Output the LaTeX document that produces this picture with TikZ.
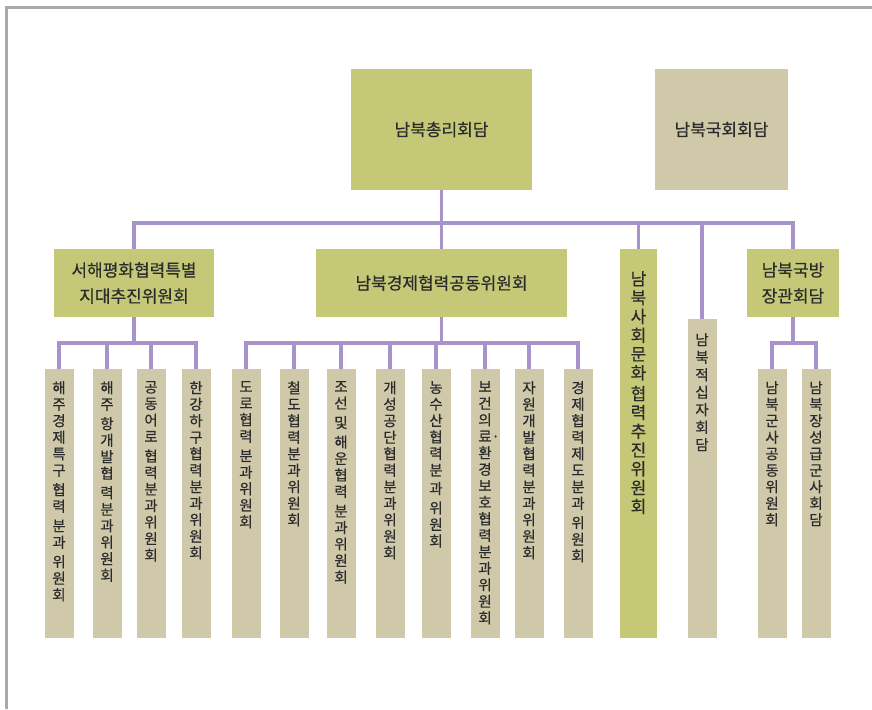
\documentclass[tikz,border=0pt]{standalone}
\usepackage{fontspec}
\setmainfont{Noto Sans CJK KR}[FakeBold=0.5]
\definecolor{olivec}{HTML}{C5C977}
\definecolor{beigec}{HTML}{CFC9AA}
\definecolor{linkc}{HTML}{A793C9}
\definecolor{framec}{HTML}{A8A9AB}
\definecolor{txtc}{HTML}{2B2B2B}
\newcommand{\vtxt}[2]{\parbox[t][#1][t]{2em}{\centering #2}}
\begin{document}
\begin{tikzpicture}[x=1pt,y=-1pt,
	link/.style={draw=linkc,line width=3.5pt},
	head/.style={fill=olivec,text=txtc,inner sep=0pt,align=center,font=\fontsize{17}{26}\selectfont},
	side/.style={head,fill=beigec},
	sub/.style={fill=beigec,text=txtc,anchor=north,minimum width=28pt,inner xsep=0pt,inner ysep=12pt,font=\fontsize{14.5}{16.5}\selectfont}]
	\useasboundingbox (0,0) rectangle (872,709);
	\draw[framec,line width=3pt] (6.5,709) -- (6.5,7.5) -- (872,7.5);
	% top
	\node[head,minimum width=181pt,minimum height=121pt] (chongri) at (441.5,129.5) {남북총리회담};
	\node[side,minimum width=133pt,minimum height=121pt] (gukhoe) at (721.5,129.5) {남북국회회담};
	% second row
	\node[head,minimum width=160pt,minimum height=68pt] (seohae) at (134,283) {서해평화협력특별\\지대추진위원회};
	\node[head,minimum width=251pt,minimum height=68pt] (gyeongje) at (441.5,283) {남북경제협력공동위원회};
	\node[sub,fill=olivec,minimum width=37pt,inner ysep=22pt,font=\fontsize{17}{18.8}\selectfont] (sahoe) at (638.5,249)
		{\vtxt{345pt}{남\\북\\사\\회\\문\\화\\[2pt]협\\력\\추\\진\\위\\원\\회}};
	\node[sub,inner ysep=14pt] (jeoksip) at (702,319) {\vtxt{291pt}{남\\[1pt]북\\[1pt]적\\[1pt]십\\[1pt]자\\[1pt]회\\[1pt]담}};
	\node[head,minimum width=92pt,minimum height=68pt] (gukbang) at (793,283) {남북국방\\장관회담};
	% subcommittees
	\node[sub] (s1) at (59,369) {\vtxt{245pt}{해\\주\\경\\제\\특\\구\\[3pt]협\\력\\[3pt]분\\과\\[3pt]위\\원\\회}};
	\node[sub] (s2) at (107,369) {\vtxt{245pt}{해\\주\\[3pt]항\\개\\발\\협\\[3pt]력\\분\\과\\위\\원\\회}};
	\node[sub] (s3) at (151,369) {\vtxt{245pt}{공\\동\\어\\로\\[3pt]협\\력\\분\\과\\위\\원\\회}};
	\node[sub] (s4) at (196,369) {\vtxt{245pt}{한\\강\\하\\구\\협\\력\\분\\과\\위\\원\\회}};
	\node[sub] (e1) at (246,369) {\vtxt{245pt}{도\\로\\협\\력\\[3pt]분\\과\\위\\원\\회}};
	\node[sub] (e2) at (294,369) {\vtxt{245pt}{철\\도\\협\\력\\분\\과\\위\\원\\회}};
	\node[sub] (e3) at (341,369) {\vtxt{245pt}{조\\선\\[3pt]및\\[3pt]해\\운\\협\\력\\[3pt]분\\과\\위\\원\\회}};
	\node[sub] (e4) at (390,369) {\vtxt{245pt}{개\\성\\공\\단\\협\\력\\분\\과\\위\\원\\회}};
	\node[sub] (e5) at (436,369) {\vtxt{245pt}{농\\수\\산\\협\\력\\분\\[2pt]과\\[3pt]위\\원\\회}};
	\node[sub] (e6) at (485,369) {\vtxt{245pt}{보\\건\\의\\료\rlap{·}\\환\\경\\보\\호\\협\\력\\분\\과\\위\\원\\회}};
	\node[sub] (e7) at (529,369) {\vtxt{245pt}{자\\원\\개\\발\\협\\력\\분\\과\\위\\원\\회}};
	\node[sub] (e8) at (578,369) {\vtxt{245pt}{경\\제\\협\\력\\제\\도\\분\\과\\[3pt]위\\원\\회}};
	\node[sub] (m1) at (772,369) {\vtxt{245pt}{남\\북\\군\\사\\공\\동\\위\\원\\회}};
	\node[sub] (m2) at (816,369) {\vtxt{245pt}{남\\북\\장\\성\\급\\군\\사\\회\\담}};
	% connectors
	\coordinate (bar) at (0,223);
	\coordinate (subbar) at (0,343);
	\draw[link] (chongri.south) -- (gyeongje.north);
	\draw[link] (seohae.north) -- (seohae.north |- bar) -- (gukbang.north |- bar) -- (gukbang.north);
	\foreach \n in {sahoe,jeoksip}
	\draw[link] (\n.north) -- (\n.north |- bar);
	\draw[link] (s1.north) -- (s1.north |- subbar) -- (s4.north |- subbar) -- (s4.north);
	\draw[link] (e1.north) -- (e1.north |- subbar) -- (e8.north |- subbar) -- (e8.north);
	\draw[link] (m1.north) -- (m1.north |- subbar) -- (m2.north |- subbar) -- (m2.north);
	\draw[link] (seohae.south) -- (seohae.south |- subbar);
	\draw[link] (gyeongje.south) -- (gyeongje.south |- subbar);
	\draw[link] (gukbang.south) -- (gukbang.south |- subbar);
	\foreach \n in {s2,s3,e2,e3,e4,e5,e6,e7}
	\draw[link] (\n.north) -- (\n.north |- subbar);
\end{tikzpicture}
\end{document}
